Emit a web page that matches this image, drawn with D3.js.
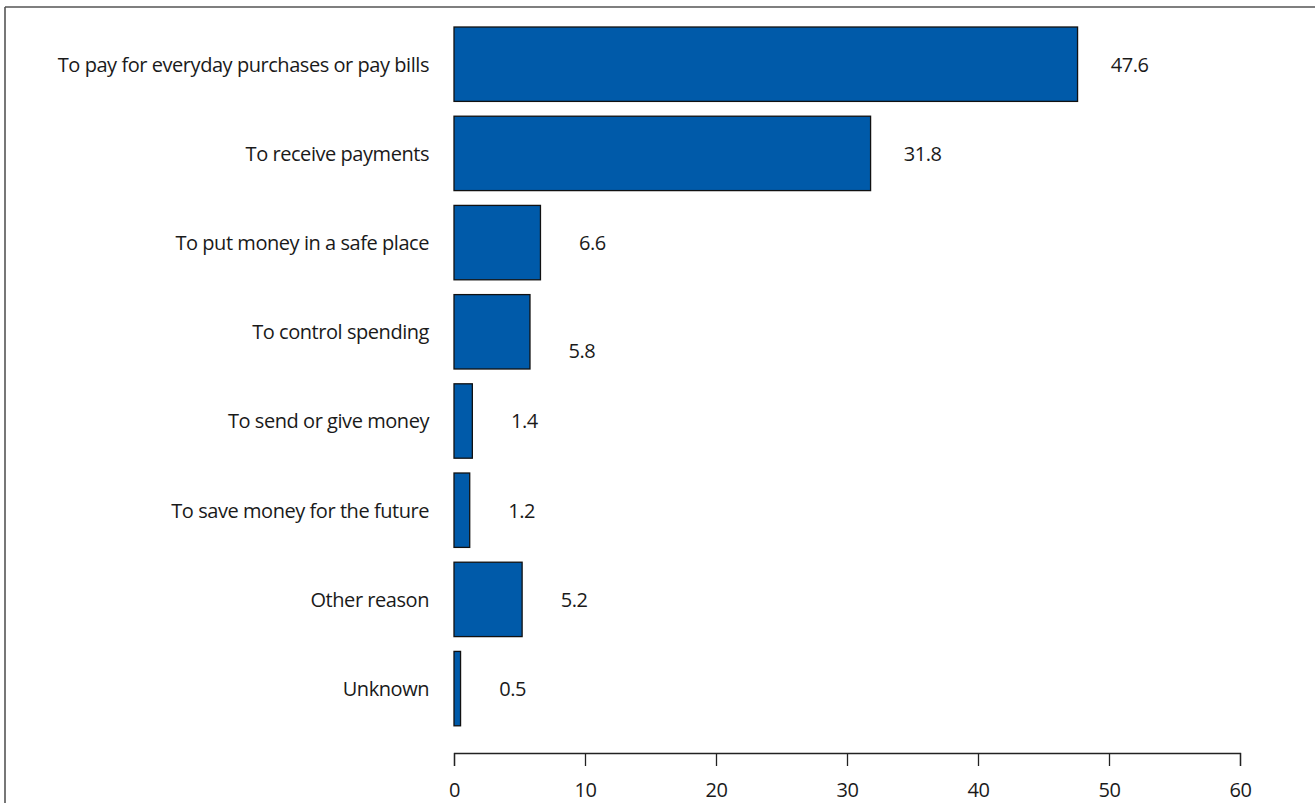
<!DOCTYPE html>
<html><head><meta charset="utf-8">
<script src="https://cdn.jsdelivr.net/npm/d3@7"></script>
<style>
html,body{margin:0;padding:0;background:#fff;}
text{font-family:"Open Sans","Noto Sans",sans-serif;fill:#1a1a1a;}
</style></head>
<body>
<svg id="chart" width="1315" height="803"></svg>
<script>
const categories = [
  "To pay for everyday purchases or pay bills",
  "To receive payments",
  "To put money in a safe place",
  "To control spending",
  "To send or give money",
  "To save money for the future",
  "Other reason",
  "Unknown"
];
const values = [47.6, 31.8, 6.6, 5.8, 1.4, 1.2, 5.2, 0.5];
const valueLabels = ["47.6", "31.8", "6.6", "5.8", "1.4", "1.2", "5.2", "0.5"];
const xTicks = [0, 10, 20, 30, 40, 50, 60];
// vertical nudge of a value label (as in the source figure)
const labelShift = [0, 0, 0, 19, 0, 0, 0, 0];

const svg = d3.select("#chart");
const W = 1315, H = 803;
const fontSize = 20;
const ls = "-0.45px";

// frame (top + left only, cut off at right/bottom)
svg.append("line").attr("x1",5).attr("x2",W).attr("y1",7).attr("y2",7)
  .attr("stroke","#555").attr("stroke-width",1.6);
svg.append("line").attr("x1",5).attr("x2",5).attr("y1",7).attr("y2",H)
  .attr("stroke","#555").attr("stroke-width",1.6);

const x = d3.scaleLinear().domain([0,60]).range([454,1240]);
const y = d3.scaleBand().domain(categories).range([19.6, 733.2]).paddingInner(0.166).paddingOuter(0.083);

const g = svg.append("g");
g.selectAll("rect.bar").data(values).join("rect")
  .attr("class","bar")
  .attr("x", x(0))
  .attr("y", (d,i)=>y(categories[i]))
  .attr("width", d=>x(d)-x(0))
  .attr("height", y.bandwidth())
  .attr("fill","#005aa9")
  .attr("stroke","#111")
  .attr("stroke-width",1.3);

g.selectAll("text.cat").data(categories).join("text")
  .attr("class","cat")
  .attr("x", 429)
  .attr("y", d=>y(d)+y.bandwidth()/2+2)
  .attr("text-anchor","end")
  .attr("dominant-baseline","middle")
  .attr("font-size", fontSize)
  .attr("letter-spacing", ls)
  .text(d=>d);

g.selectAll("text.val").data(values).join("text")
  .attr("class","val")
  .attr("x", d=>x(d)+52)
  .attr("y", (d,i)=>y(categories[i])+y.bandwidth()/2+2+labelShift[i])
  .attr("text-anchor","middle")
  .attr("dominant-baseline","middle")
  .attr("font-size", fontSize)
  .attr("letter-spacing", ls)
  .text((d,i)=>valueLabels[i]);

const axis = d3.axisBottom(x).tickValues(xTicks).tickSize(13).tickSizeOuter(13).tickPadding(17).tickFormat(d3.format("d"));
const ax = svg.append("g").attr("transform","translate(0,753)").call(axis);
ax.select(".domain").attr("stroke","#222").attr("stroke-width",1.3);
ax.selectAll(".tick line").attr("stroke","#222").attr("stroke-width",1.3);
ax.selectAll(".tick text").attr("font-size",fontSize).attr("letter-spacing", ls)
  .attr("font-family","'Open Sans','Noto Sans',sans-serif").attr("fill","#1a1a1a");
</script>
</body></html>
